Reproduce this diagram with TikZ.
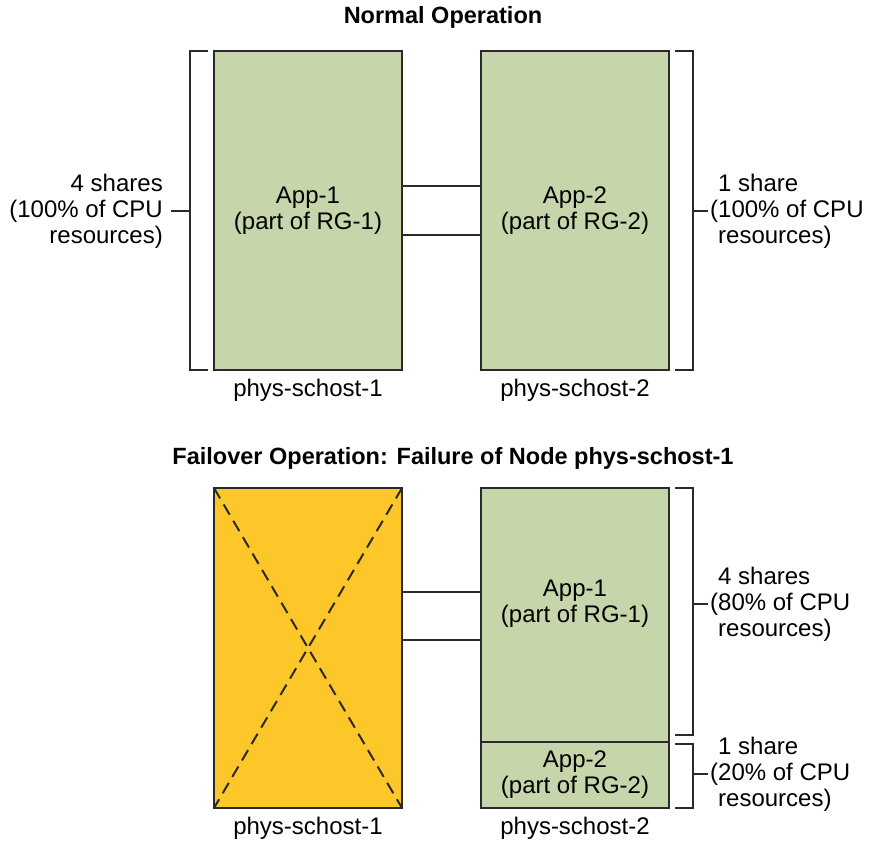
\documentclass[tikz,border=0pt]{standalone}
\usepackage{fontspec}
\setmainfont{Liberation Sans}
\usetikzlibrary{positioning}
\definecolor{appgreen}{HTML}{C6D6AA}
\definecolor{failorange}{HTML}{FDC72A}
\definecolor{edgegray}{HTML}{2A2A2A}

\begin{document}
\begin{tikzpicture}[x=1pt, y=-1pt,
  host box/.style={draw=edgegray, line width=2.5pt, outer sep=0pt, inner sep=0pt,
    minimum width=188pt, align=center, font=\fontsize{24}{26}\selectfont},
  host name/.style={font=\fontsize{24}{26}\selectfont, inner sep=0pt},
  share label/.style={font=\fontsize{24}{26}\selectfont, inner sep=0pt},
  title/.style={font=\bfseries\fontsize{23.5}{26}\selectfont, inner sep=0pt},
  bracket/.style={draw=edgegray, line width=1.6pt},
  link/.style={draw=edgegray, line width=1.6pt}]
\useasboundingbox (0,0) rectangle (874,840);

% normal operation
\node[title] (t1) at (443,17) {Normal Operation};
\node[host box, fill=appgreen, minimum height=319pt] (a1) at (308,210.5) {App-1\\(part of RG-1)};
\node[host box, fill=appgreen, minimum height=319pt] (a2) at (575,210.5) {App-2\\(part of RG-2)};
\node[host name, below=9pt of a1] (h1) {phys-schost-1};
\node[host name, below=9pt of a2] (h2) {phys-schost-2};
\node[share label, anchor=east, align=right] (s1) at (163,211) {4 shares\\(100\% of CPU\\resources)};
\node[share label, anchor=west, align=left] (s2) at (718,211) {1 share\\\llap{(}100\% of CPU\\resources)};

\draw[link] ([yshift=24.5pt]a1.east) -- ([yshift=24.5pt]a2.west);
\draw[link] ([yshift=-24.5pt]a1.east) -- ([yshift=-24.5pt]a2.west);

\draw[bracket] ([xshift=-6pt]a1.north west) -- ++(-18,0) coordinate (k1) |- ([xshift=-6pt]a1.south west);
\draw[bracket] ([xshift=6pt]a2.north east) -- ++(18,0) coordinate (k2) |- ([xshift=6pt]a2.south east);
\draw[bracket] ([xshift=8pt]s1.east) -- (s1.east -| k1);
\draw[bracket] ([xshift=-10pt]s2.west) -- (s2.west -| k2);

% failover operation
\node[title] (t2) at (453,458) {Failover Operation: Failure of Node phys-schost-1};
\node[host box, fill=failorange, minimum height=320pt] (f1) at (308,648) {};
\node[host box, fill=appgreen, minimum height=254pt] (g1) at (575,615) {App-1\\(part of RG-1)\\[2pt]};
\node[host box, fill=appgreen, minimum height=66pt, below=0pt of g1] (g2) {App-2\\(part of RG-2)};
\node[host name, below=9pt of f1] (h3) {phys-schost-1};
\node[host name, below=9pt of g2] (h4) {phys-schost-2};
\node[share label, anchor=west, align=left] (s3) at (718,604) {4 shares\\\llap{(}80\% of CPU\\resources)};
\node[share label, anchor=west, align=left] (s4) at (718,774) {1 share\\\llap{(}20\% of CPU\\resources)};

\draw[edgegray, line width=2pt, dash pattern=on 12pt off 7pt] (f1.north west) -- (f1.south east);
\draw[edgegray, line width=2pt, dash pattern=on 12pt off 7pt] (f1.north east) -- (f1.south west);

\draw[link] ([yshift=56pt]f1.east) -- ([yshift=56pt]f1.east -| g1.west);
\draw[link] ([yshift=8pt]f1.east) -- ([yshift=8pt]f1.east -| g1.west);

\draw[bracket] ([xshift=6pt]g1.north east) -- ++(18,0) coordinate (k3) |- ([xshift=6pt,yshift=7pt]g1.south east);
\draw[bracket] ([xshift=6pt,yshift=-2pt]g2.north east) -- ++(18,0) coordinate (k4) |- ([xshift=6pt]g2.south east);
\draw[bracket] ([xshift=-10pt]s3.west) -- (s3.west -| k3);
\draw[bracket] ([xshift=-10pt]s4.west) -- (s4.west -| k4);
\end{tikzpicture}
\end{document}
